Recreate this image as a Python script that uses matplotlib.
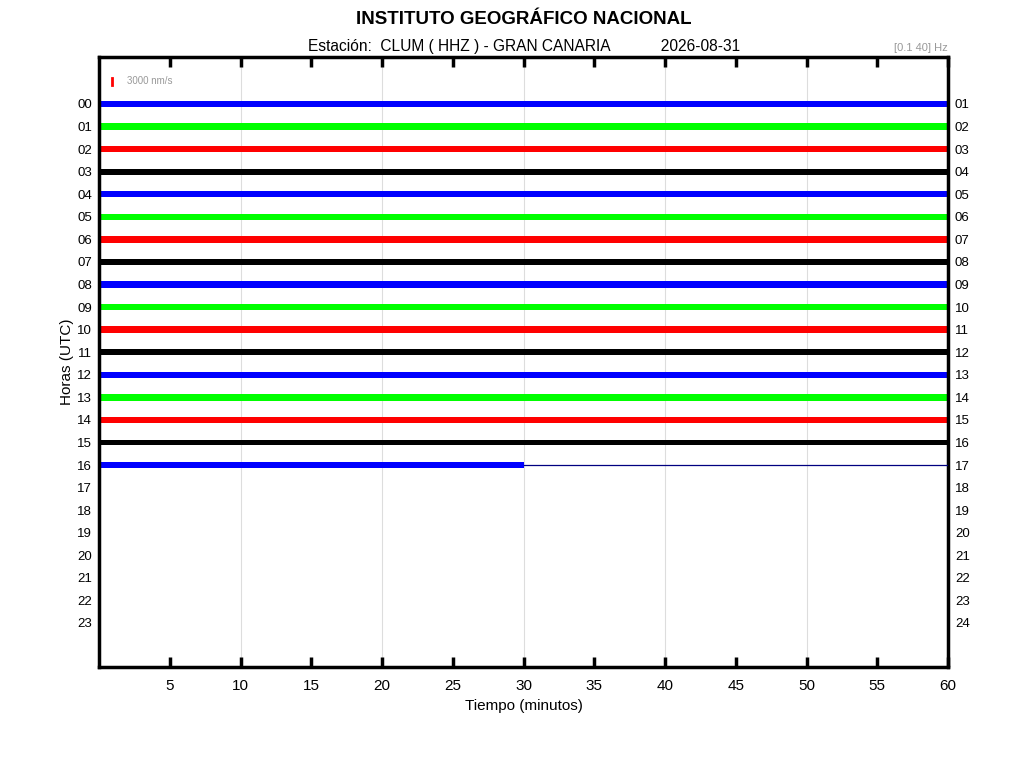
import numpy as np
import matplotlib
matplotlib.use('Agg')
from matplotlib import pyplot as plt

plt.rcParams['font.family'] = ['Liberation Sans', 'DejaVu Sans']

# helicorder rows (one per hour), colour cycle, minute where data ends
horas = list(range(17))
colores = ['#0000ff', '#00ff00', '#ff0000', '#000000']
fin_datos = [60] * 16 + [30]
# half peak-to-peak amplitude of each trace (nm/s)
amplitud = [1350, 1450, 1400, 1300, 1350, 1450, 1400, 1300,
            1350, 1450, 1400, 1300, 1350, 1450, 1400, 1250, 1450]
escala_nms = 3000          # scale bar value
escala_alto = 0.30         # scale bar height in row units

etiq_izq = ['%02d' % h for h in range(24)]
etiq_der = ['%02d' % (h + 1) for h in range(24)]
xticks = [5, 10, 15, 20, 25, 30, 35, 40, 45, 50, 55, 60]

fig = plt.figure(figsize=(10.24, 7.68), dpi=100)
ax = fig.add_axes([99/1024, 1-667/768, 849/1024, 610/768])
ax.set_xlim(0, 60)
ax.set_ylim(24.95, -2.08)

for x in range(10, 60, 10):
    ax.axvline(x, color='#dddddd', lw=0.8, zorder=0)

k = escala_alto / escala_nms
for h in horas:
    c = colores[h % 4]
    a = amplitud[h] * k
    fin = fin_datos[h]
    ax.fill_between([0, fin], h - a, h + a, color=c, lw=0, zorder=2)
    if fin < 60:
        ax.plot([fin, 60], [h, h], color='#000080', lw=0.9, zorder=3)

# scale bar
ax.plot([0.92, 0.92], [-1.0 - escala_alto/2, -1.0 + escala_alto/2], color='red', lw=2)
ax.text(1.95, -1.0, '%d nm/s' % escala_nms, fontsize=7, color='#999999', va='center')

ax.set_xticks(xticks)
ax.set_xticklabels([str(t) for t in xticks], fontsize=11)
ax.tick_params(axis='x', direction='in', length=7, width=2.5, top=True, pad=9)
ax.set_yticks(range(24))
ax.set_yticklabels(etiq_izq, fontsize=9.5)
ax.tick_params(axis='y', length=0, pad=5)
for s in ax.spines.values():
    s.set_linewidth(2.5)

ax2 = ax.twinx()
ax2.set_ylim(ax.get_ylim())
ax2.set_yticks(range(24))
ax2.set_yticklabels(etiq_der, fontsize=9.5)
ax2.tick_params(axis='y', length=0, pad=5)
for s in ax2.spines.values():
    s.set_visible(False)

ax.set_xlabel('Tiempo (minutos)', fontsize=11, labelpad=4)
ax.set_ylabel('Horas (UTC)', fontsize=11, labelpad=2)

fig.text(0.512, 1-20/768, 'INSTITUTO GEOGRÁFICO NACIONAL', fontsize=13.5, fontweight='bold',
         ha='center', va='center')
fig.text(0.512, 1-46/768, 'Estación:  CLUM ( HHZ ) - GRAN CANARIA            2026-08-31',
         fontsize=11.2, ha='center', va='center')
fig.text(948/1024, 1-48/768, '[0.1 40] Hz', fontsize=8, color='#999999', ha='right', va='center')

fig.savefig('out.png', dpi=100)
